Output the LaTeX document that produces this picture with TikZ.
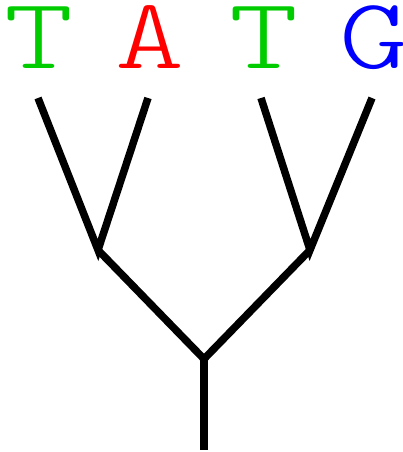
\documentclass[tikz,border=0pt]{standalone}
\usepackage{fontspec}
\newfontfamily\leaffont{Latin Modern Mono Light}
\definecolor{bgreen}{RGB}{0,204,0}
\definecolor{bred}{RGB}{255,0,0}
\definecolor{bblue}{RGB}{0,0,255}
\tikzset{
  leaf/.style={anchor=base, inner sep=0pt, xscale=1.3, font=\leaffont\fontsize{101}{101}\selectfont},
  branch/.style={line width=7.5pt, black}
}
\begin{document}
\begin{tikzpicture}[x=1pt,y=-1pt]
\useasboundingbox (0,0) rectangle (402,452);
\node[leaf, text=bgreen] (l1) at (39,69) {T};
\node[leaf, text=bred] (l2) at (150,69) {A};
\node[leaf, text=bgreen] (l3) at (264,69) {T};
\node[leaf, text=bblue] (l4) at (374,69) {G};
\coordinate (t1) at (38,98);
\coordinate (t2) at (148,98);
\coordinate (t3) at (261,98);
\coordinate (t4) at (372,98);
\coordinate (n1) at (98,250);
\coordinate (n2) at (310,250);
\coordinate (r) at (204,359);
\coordinate (b) at (204,450);
\draw[branch] (t1) -- (n1) -- (t2);
\draw[branch] (t3) -- (n2) -- (t4);
\draw[branch] (n1) -- (r) -- (n2);
\draw[branch] (r) -- (b);
\end{tikzpicture}
\end{document}
